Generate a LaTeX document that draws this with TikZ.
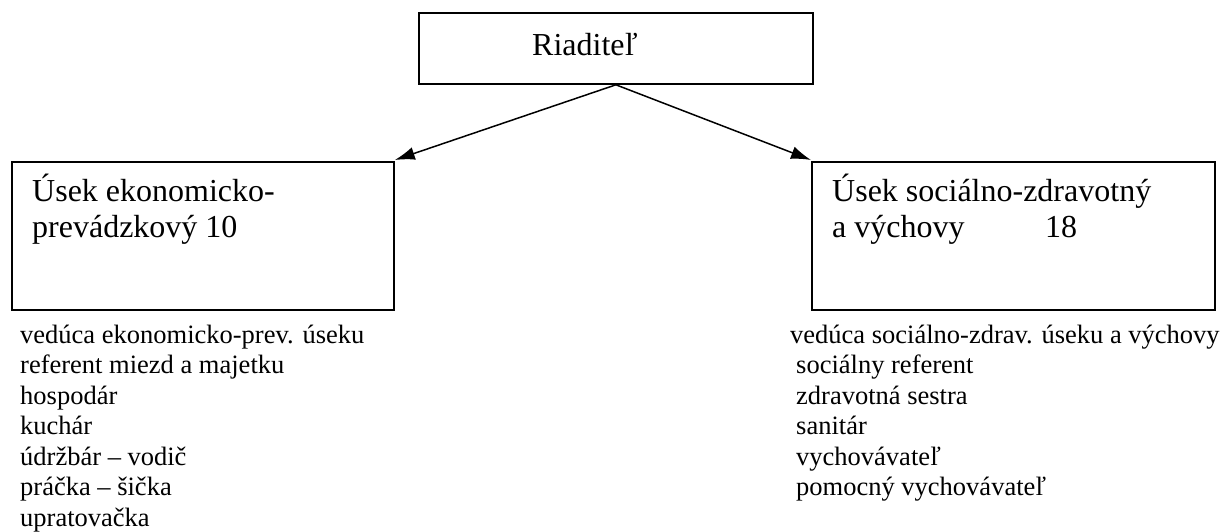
\documentclass[tikz,border=0pt]{standalone}
\usepackage{fontspec}
\setmainfont{Liberation Serif}
\usetikzlibrary{arrows.meta}
\begin{document}
\begin{tikzpicture}[x=1pt,y=-1pt,
  box/.style={draw, line width=1.8pt, inner sep=0pt, anchor=north west},
  big/.style={font=\fontsize{32}{36}\selectfont, inner sep=0pt, anchor=base west},
  small/.style={font=\fontsize{26.5}{30}\selectfont, inner sep=0pt, anchor=base west},
  conn/.style={line width=1.5pt, -{Latex[length=20pt,width=13pt]}}]
\useasboundingbox (0,0) rectangle (1223,532);
% boxes
\node[box, minimum width=394pt, minimum height=71pt] (dir) at (418,12) {};
\node[box, minimum width=382pt, minimum height=148pt] (eko) at (11,161) {};
\node[box, minimum width=403pt, minimum height=148pt] (soc) at (811,161) {};
% box texts
\node[big] (dirt) at (532,56) {Riaditeľ};
\node[big] (ekot1) at (32,201) {Úsek ekonomicko-};
\node[big] (ekot2) at (32,237) {prevádzkový 10};
\node[big] (soct1) at (832,201) {Úsek sociálno-zdravotný};
\node[big] (soct2) at (832,237) {a výchovy};
\node[big] (socn) at (1045,237) {18};
% connectors
\draw[conn] (dir.south) -- ([yshift=1pt]eko.north east);
\draw[conn] (dir.south) -- ([yshift=1pt]soc.north west);
% lists
\foreach \t [count=\i] in {vedúca ekonomicko-prev. úseku, referent miezd a majetku, hospodár, kuchár, údržbár – vodič, práčka – šička, upratovačka}
  \node[small] (ekol\i) at (20,{343+30.5*(\i-1)}) {\t};
\node[small] (socl1) at (790,343) {vedúca sociálno-zdrav. úseku a výchovy};
\foreach \t [count=\i from 2] in {sociálny referent, zdravotná sestra, sanitár, vychovávateľ, pomocný vychovávateľ}
  \node[small] (socl\i) at (796,{343+30.5*(\i-1)}) {\t};
\end{tikzpicture}
\end{document}
